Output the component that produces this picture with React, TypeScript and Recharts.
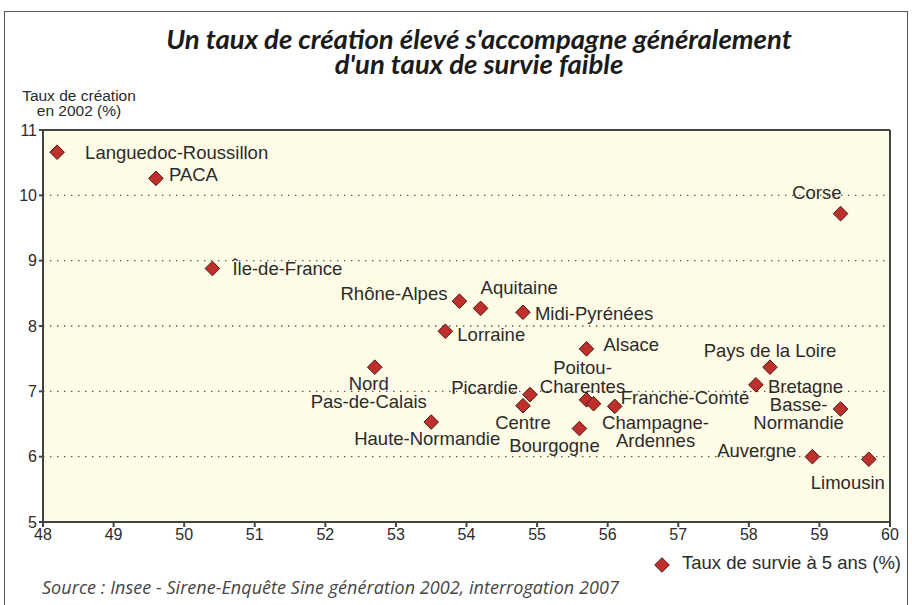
import React from "react";
import {
  CartesianGrid,
  ReferenceLine,
  Scatter,
  ScatterChart,
  XAxis,
  YAxis,
} from "recharts";

const regions = [
  "Languedoc-Roussillon",
  "PACA",
  "Île-de-France",
  "Rhône-Alpes",
  "Aquitaine",
  "Midi-Pyrénées",
  "Lorraine",
  "Alsace",
  "Pays de la Loire",
  "Bretagne",
  "Basse-Normandie",
  "Corse",
  "Picardie",
  "Centre",
  "Poitou-Charentes",
  "Franche-Comté",
  "Champagne-Ardennes",
  "Bourgogne",
  "Nord-Pas-de-Calais",
  "Haute-Normandie",
  "Auvergne",
  "Limousin",
];
const survie = [
  48.2, 49.6, 50.4, 53.9, 54.2, 54.8, 53.7, 55.7, 58.3, 58.1, 59.3, 59.3, 54.9,
  54.8, 55.7, 56.1, 55.8, 55.6, 52.7, 53.5, 58.9, 59.7,
];
const creation = [
  10.66, 10.26, 8.88, 8.38, 8.27, 8.21, 7.92, 7.65, 7.37, 7.1, 6.73, 9.72, 6.95,
  6.78, 6.87, 6.77, 6.81, 6.43, 7.37, 6.53, 6.0, 5.96,
];
const xTicks = [48, 49, 50, 51, 52, 53, 54, 55, 56, 57, 58, 59, 60];
const yTicks = [5, 6, 7, 8, 9, 10, 11];

// where each label sits relative to its diamond
type Lbl = { lines?: string[]; dx: number; dy: number; anchor: "start" | "middle" | "end"; gap?: number };
const labelPos: Record<string, Lbl> = {
  "Languedoc-Roussillon": { dx: 28, dy: 0, anchor: "start" },
  PACA: { dx: 13, dy: -4, anchor: "start" },
  "Île-de-France": { dx: 20, dy: 0, anchor: "start" },
  "Rhône-Alpes": { dx: -12, dy: -8, anchor: "end" },
  Aquitaine: { dx: 0, dy: -21, anchor: "start" },
  "Midi-Pyrénées": { dx: 12, dy: 1, anchor: "start" },
  Lorraine: { dx: 12, dy: 3, anchor: "start" },
  Alsace: { dx: 17, dy: -4, anchor: "start" },
  "Pays de la Loire": { dx: 0, dy: -17, anchor: "middle" },
  Bretagne: { dx: 12, dy: 1.5, anchor: "start" },
  "Basse-Normandie": { lines: ["Basse-", "Normandie"], dx: -42, dy: -4, anchor: "middle", gap: 18 },
  Corse: { dx: 1, dy: -21, anchor: "end" },
  Picardie: { dx: -12, dy: -7, anchor: "end" },
  Centre: { dx: 0, dy: 17, anchor: "middle" },
  "Poitou-Charentes": { lines: ["Poitou-", "Charentes"], dx: -4, dy: -32, anchor: "middle", gap: 18.5 },
  "Franche-Comté": { dx: 6, dy: -9, anchor: "start" },
  "Champagne-Ardennes": { lines: ["Champagne-", "Ardennes"], dx: 62, dy: 18.5, anchor: "middle", gap: 18 },
  Bourgogne: { dx: -25, dy: 17, anchor: "middle" },
  "Nord-Pas-de-Calais": { lines: ["Nord", "Pas-de-Calais"], dx: -6, dy: 16, anchor: "middle", gap: 18.3 },
  "Haute-Normandie": { dx: -4, dy: 16, anchor: "middle" },
  Auvergne: { dx: -16, dy: -6, anchor: "end" },
  Limousin: { dx: -21, dy: 23, anchor: "middle" },
};

const data = regions.map((r, i) => ({ region: r, survie: survie[i], creation: creation[i] }));

const RED = "#BF2F2C";
const EDGE = "#4a1a18";
const INK = "#2b2b2b";
const labelFont = "'Liberation Sans', Arial, sans-serif";

function Diamond({ cx, cy, r = 7.3 }: { cx: number; cy: number; r?: number }) {
  return (
    <polygon
      points={`${cx},${cy - r} ${cx + r},${cy} ${cx},${cy + r} ${cx - r},${cy}`}
      fill={RED}
      stroke={EDGE}
      strokeWidth={1}
    />
  );
}

function PointShape(props: any) {
  const { cx, cy, payload } = props;
  const l = labelPos[payload.region];
  const lines = l.lines ?? [payload.region];
  return (
    <g>
      <Diamond cx={cx} cy={cy} />
      {lines.map((t, i) => (
        <text
          key={t}
          x={cx + l.dx}
          y={cy + l.dy + i * (l.gap ?? 17)}
          textAnchor={l.anchor}
          dominantBaseline="central"
          fontSize={18.5}
          fontFamily={labelFont}
          fill={INK}
        >
          {t}
        </text>
      ))}
    </g>
  );
}

export default function App() {
  return (
    <div
      style={{
        position: "absolute",
        left: 0,
        top: 0,
        width: 912,
        height: 605,
        background: "#fff",
        overflow: "hidden",
        fontFamily: labelFont,
      }}
    >
      <div
        style={{
          position: "absolute",
          left: 4,
          top: 11,
          width: 904,
          height: 620,
          border: "1.5px solid #555",
          boxSizing: "border-box",
        }}
      />
      <div
        style={{
          position: "absolute",
          left: 0,
          top: 26,
          width: 958,
          textAlign: "center",
          fontFamily: "Lato, 'Open Sans', sans-serif",
          fontStyle: "italic",
          fontWeight: "bold",
          fontSize: 27.5,
          lineHeight: "25px",
          color: "#1b1b1b",
        }}
      >
        Un taux de création élevé s'accompagne généralement
        <br />
        d'un taux de survie faible
      </div>
      <div
        style={{
          position: "absolute",
          left: 19,
          top: 88,
          width: 120,
          textAlign: "center",
          fontSize: 15.5,
          lineHeight: "15px",
          color: INK,
          whiteSpace: "nowrap",
        }}
      >
        Taux de création
        <br />
        en 2002 (%)
      </div>
      <ScatterChart
        width={912}
        height={605}
        margin={{ top: 130, right: 22, bottom: 53, left: 8 }}
        style={{ position: "absolute", left: 0, top: 0 }}
      >
        <CartesianGrid
          fill="#FEFCE6"
          vertical={false}
          stroke="#555"
          strokeDasharray="1.4 5.6"
          strokeWidth={1.4}
        />
        <XAxis
          type="number"
          dataKey="survie"
          domain={[48, 60]}
          ticks={xTicks}
          interval={0}
          height={30}
          tickSize={5}
          stroke="#444"
          strokeWidth={2}
          tick={{ fontSize: 16, fill: INK, fontFamily: labelFont }}
        />
        <YAxis
          type="number"
          dataKey="creation"
          domain={[5, 11]}
          ticks={yTicks}
          interval={0}
          width={35}
          tickSize={4}
          stroke="#444"
          strokeWidth={2}
          tick={{ fontSize: 16, fill: INK, fontFamily: labelFont }}
        />
        <ReferenceLine y={11} stroke="#444" strokeWidth={2} />
        <ReferenceLine x={60} stroke="#444" strokeWidth={2} />
        <Scatter data={data} shape={PointShape} isAnimationActive={false} />
      </ScatterChart>
      <svg
        width={20}
        height={20}
        style={{ position: "absolute", left: 652, top: 555 }}
      >
        <Diamond cx={10} cy={10} />
      </svg>
      <div
        style={{
          position: "absolute",
          left: 682,
          top: 552,
          fontSize: 18.5,
          color: INK,
          whiteSpace: "nowrap",
        }}
      >
        Taux de survie à 5 ans (%)
      </div>
      <div
        style={{
          position: "absolute",
          left: 42,
          top: 575,
          fontSize: 18,
          letterSpacing: 0.05,
          fontStyle: "italic",
          fontFamily: "'Open Sans', sans-serif",
          color: "#454545",
          whiteSpace: "nowrap",
        }}
      >
        Source : Insee - Sirene-Enquête Sine génération 2002, interrogation 2007
      </div>
    </div>
  );
}
